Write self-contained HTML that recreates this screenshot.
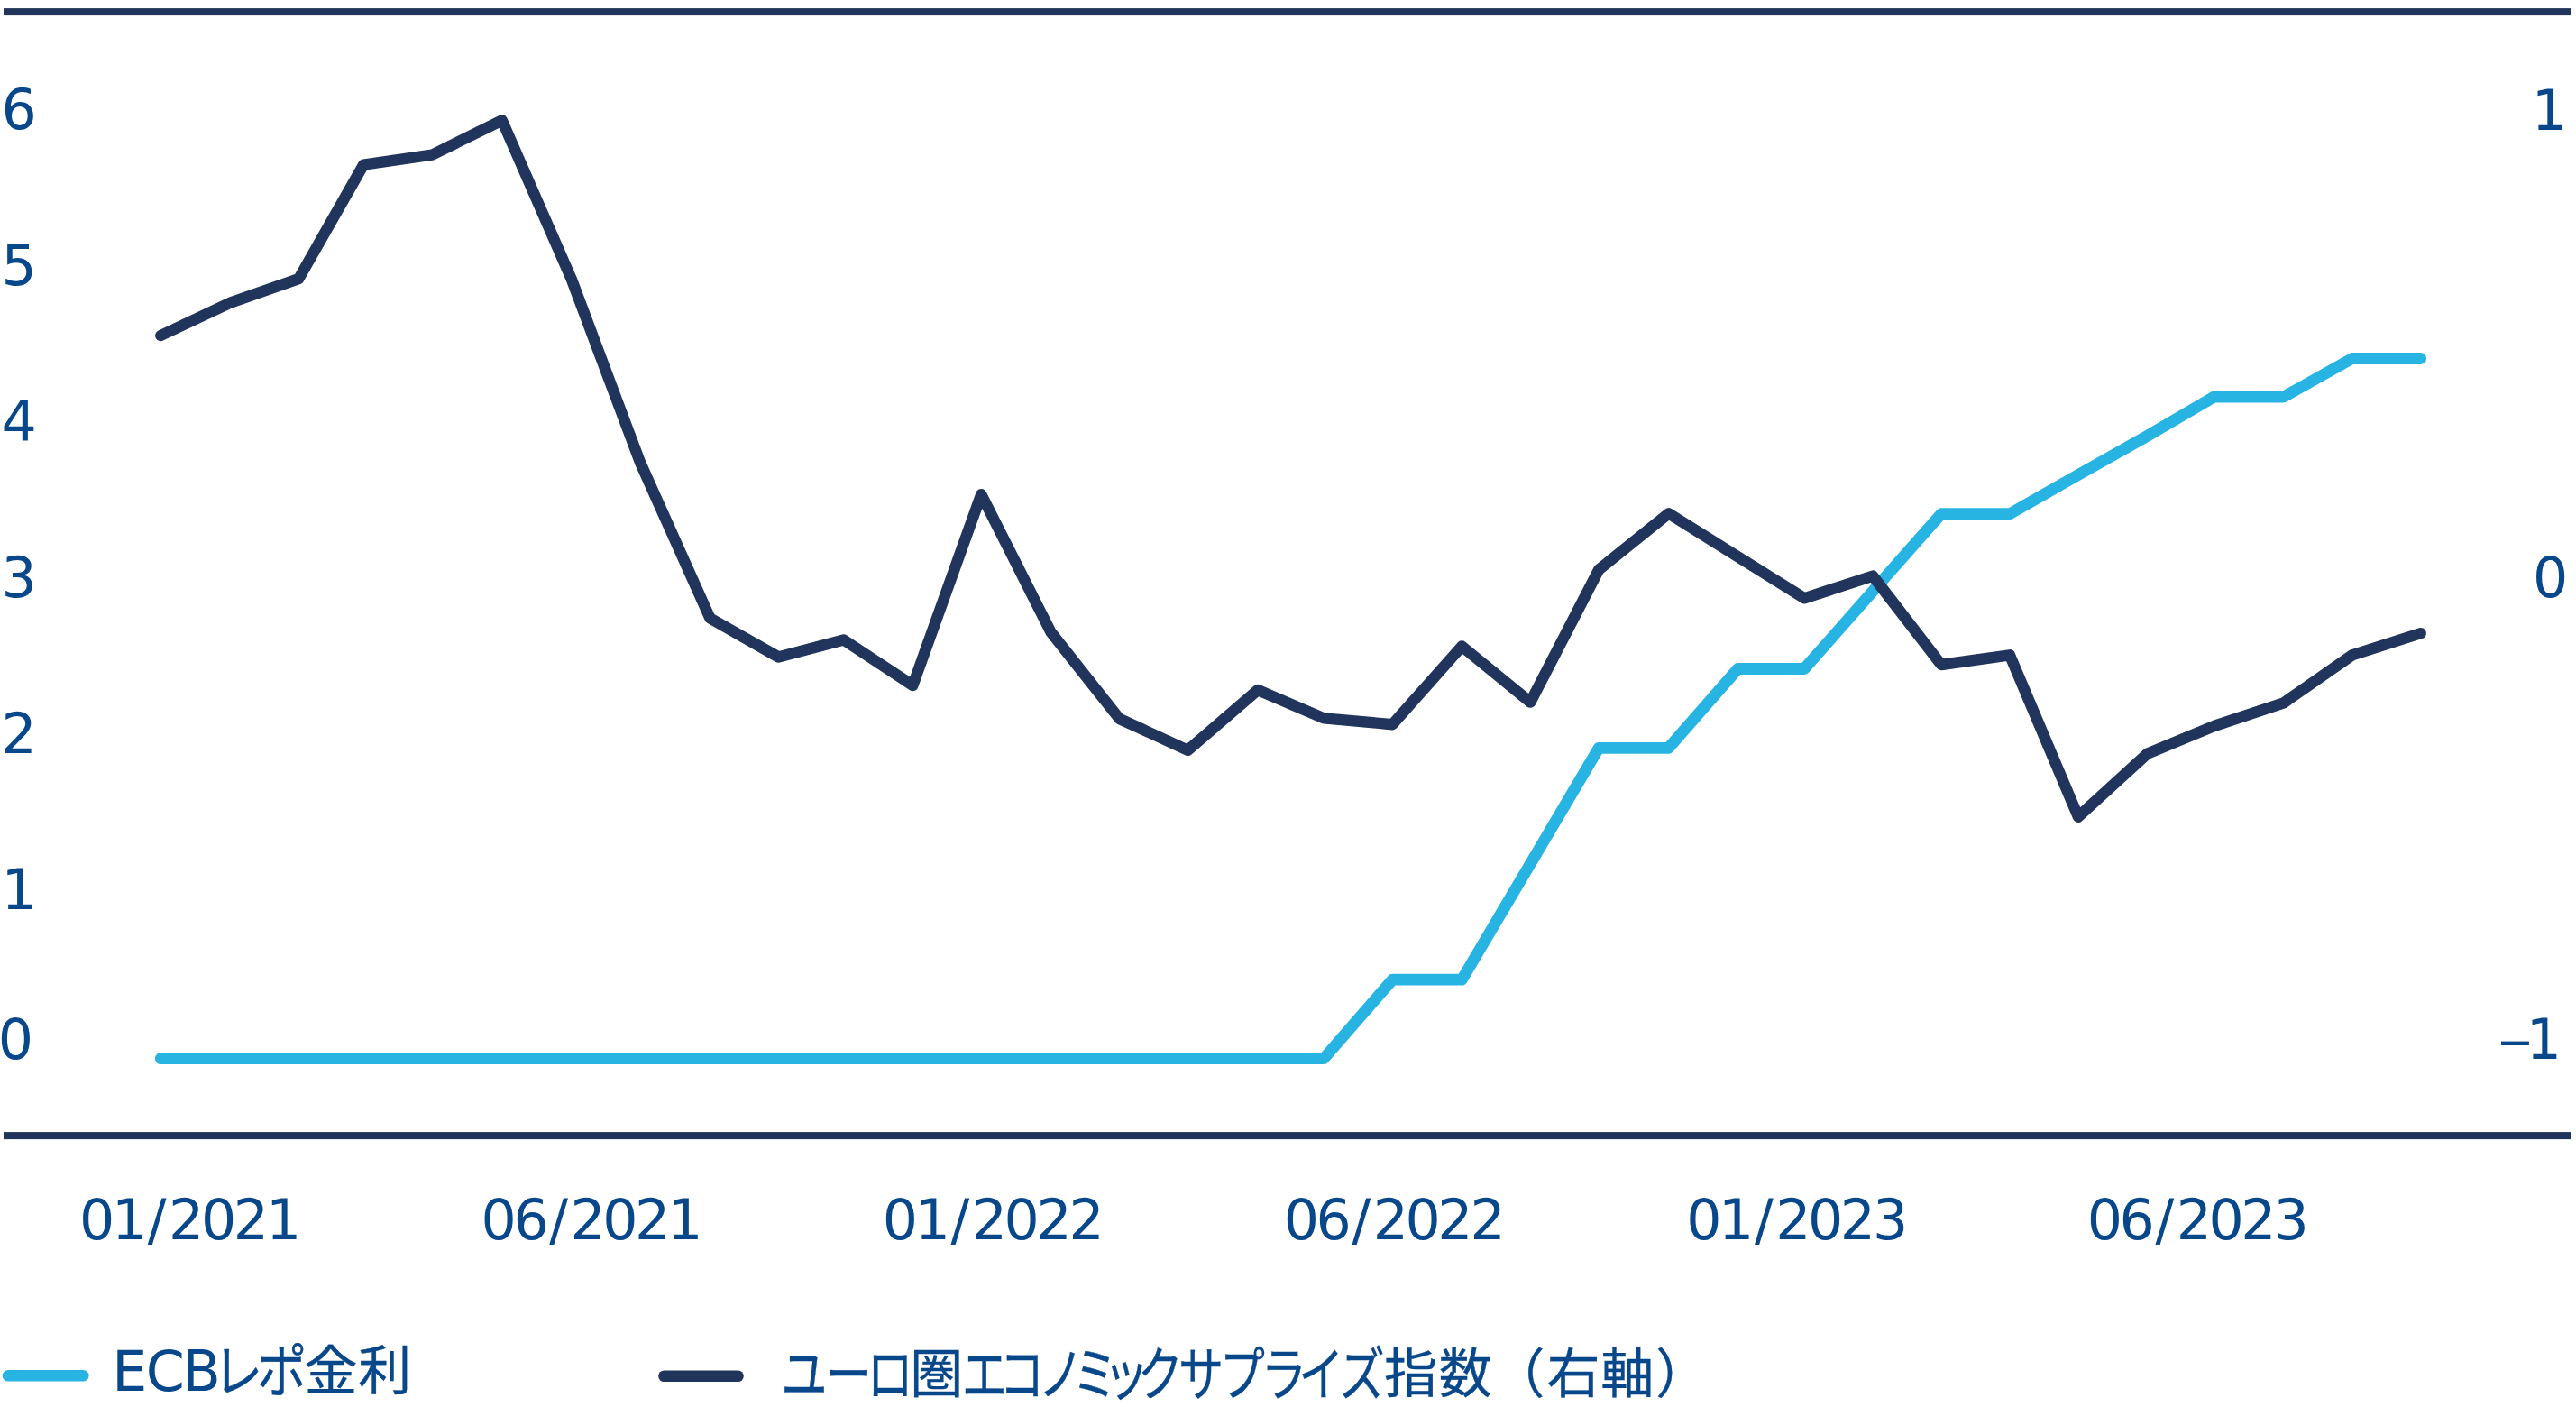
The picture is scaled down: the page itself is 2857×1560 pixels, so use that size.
<!DOCTYPE html>
<html lang="ja"><head><meta charset="utf-8"><title>ECBレポ金利とユーロ圏エコノミックサプライズ指数</title>
<style>
html,body{margin:0;padding:0;background:#fff;}
body{width:2857px;height:1560px;overflow:hidden;}
svg{display:block;}
.n{font-family:"DejaVu Sans","Liberation Sans",sans-serif;font-size:61.7px;fill:#07478a;}
.j{font-family:"Liberation Sans","Noto Sans CJK JP",sans-serif;font-size:59px;fill:#07478a;stroke:#07478a;stroke-width:0.35px;}
</style></head><body>
<svg width="2857" height="1560" viewBox="0 0 2857 1560">
<rect width="2857" height="1560" fill="#fff"/>
<rect x="4" y="9.1" width="2847" height="8" fill="#21345c"/>
<rect x="4" y="1255.1" width="2847" height="8" fill="#21345c"/>
<polyline points="178.3,1173.6 254.9,1173.6 331.2,1173.6 403.2,1173.6 479.1,1173.6 556.8,1173.6 634.0,1173.6 710.0,1173.6 787.4,1173.6 863.4,1173.6 935.6,1173.6 1012.4,1173.6 1088.3,1173.6 1165.7,1173.6 1241.6,1173.6 1317.5,1173.6 1395.0,1173.6 1468.2,1173.6 1544.4,1086.2 1621.3,1086.2 1697.3,957.75 1773.2,829.3 1850.6,829.3 1927.4,741.5 2001.1,741.5 2077.1,655.6 2153.0,569.7 2229.0,569.7 2304.9,526.5 2381.9,483.2 2455.6,440.0 2532.8,440.0 2608.7,397.5 2684.7,397.5" fill="none" stroke="#28b4e3" stroke-width="12.8" stroke-linecap="round" stroke-linejoin="round"/>
<polyline points="178.3,372.0 254.9,335.8 331.2,309.2 403.2,182.6 479.1,171.7 556.8,133.4 634.0,310.0 710.0,512.6 787.4,685.3 863.4,728.5 935.6,709.4 1012.4,760.0 1088.3,548.2 1165.7,701.2 1241.6,797.0 1317.5,831.8 1395.0,765.0 1468.2,796.4 1544.4,803.2 1621.3,716.5 1697.3,778.6 1773.2,631.7 1850.6,569.3 1927.4,617.3 2001.1,663.3 2077.1,638.6 2153.0,737.0 2229.0,726.3 2304.9,905.7 2381.9,835.4 2455.6,805.0 2532.8,779.3 2608.7,726.4 2684.7,702.1" fill="none" stroke="#21345c" stroke-width="12.4" stroke-linecap="round" stroke-linejoin="round"/>
<g class="n">
<text x="1.6" y="143.3">6</text>
<text x="1.6" y="316.3">5</text>
<text x="1.6" y="489.3">4</text>
<text x="1.6" y="662.3">3</text>
<text x="1.6" y="835.3">2</text>
<text x="1.6" y="1008.3">1</text>
<text x="-2.2" y="1174.1">0</text>
<text x="2807.7" y="143.5">1</text>
<text x="2808.9" y="662.2">0</text>
<text y="1173.9"><tspan x="2770.3" textLength="38.4" lengthAdjust="spacingAndGlyphs">–</tspan><tspan x="2801.7">1</tspan></text>
<text x="88.1 124 163.8 187.1 222.9 258.7 294.9" y="1373.6">01/2021</text>
<text x="533.5 569.4 609.2 632.5 668.3 704.1 740.3" y="1373.6">06/2021</text>
<text x="978.8 1014.7 1054.5 1077.8 1113.6 1149.4 1185.6" y="1373.6">01/2022</text>
<text x="1423.7 1459.6 1499.4 1522.7 1558.5 1594.3 1630.5" y="1373.6">06/2022</text>
<text x="1870.2 1906.1 1945.9 1969.2 2005 2040.8 2077" y="1373.6">01/2023</text>
<text x="2314.7 2350.6 2390.4 2413.7 2449.5 2485.3 2521.5" y="1373.6">06/2023</text>
</g>
<line x1="9" y1="1525.3" x2="92.3" y2="1525.3" stroke="#28b4e3" stroke-width="12.6" stroke-linecap="round"/>
<text class="n" x="124.3 161.8 202.4" y="1541.7">ECB</text>
<text class="j" transform="scale(0.935,1.07)" x="252.7 304.8" y="1442.5">レポ</text>
<text class="j" x="337.4 397.3" y="1541">金利</text>
<line x1="736.5" y1="1525.8" x2="818.5" y2="1525.8" stroke="#21345c" stroke-width="12.6" stroke-linecap="round"/>
<text class="j" transform="scale(0.87,1.09)" x="995.6 1052.5 1105.3" y="1419.1">ユーロ</text>
<text class="j" x="1009.2" y="1544.2">圏</text>
<text class="j" transform="scale(0.85,1.09)" x="1255 1303.7 1354.7 1399.1 1440.2 1484.4 1537.7 1591.5 1645.7 1694.4 1747.7" y="1419.1">エコノミックサプライズ</text>
<text class="j" x="1535.1 1595.7 1654.3 1715.6 1775.3 1836.3" y="1544.2">指数（右軸）</text>
</svg>
</body></html>
